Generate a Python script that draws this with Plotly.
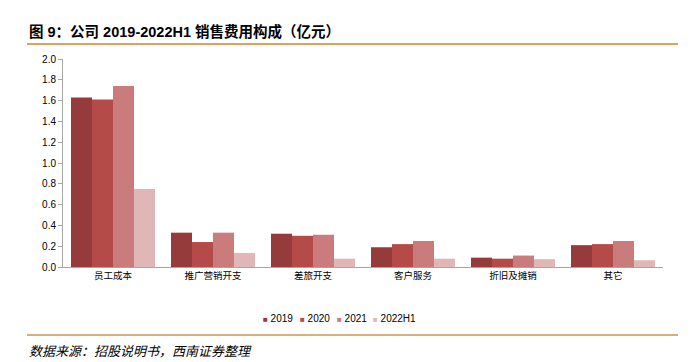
import plotly.graph_objects as go

categories = ["员工成本", "推广营销开支", "差旅开支", "客户服务", "折旧及摊销", "其它"]
series_names = ["2019", "2020", "2021", "2022H1"]
v2019 = [1.63, 0.33, 0.32, 0.19, 0.09, 0.21]
v2020 = [1.61, 0.24, 0.30, 0.22, 0.08, 0.22]
v2021 = [1.74, 0.33, 0.31, 0.25, 0.11, 0.25]
v2022h1 = [0.75, 0.135, 0.08, 0.08, 0.075, 0.065]
y_ticks = [0.0, 0.2, 0.4, 0.6, 0.8, 1.0, 1.2, 1.4, 1.6, 1.8, 2.0]

colors = ["#963b3b", "#b44b49", "#c97c7b", "#e1b6b6"]
values = [v2019, v2020, v2021, v2022h1]

fig = go.Figure()
for name, vals, c in zip(series_names, values, colors):
    fig.add_trace(go.Bar(name=name, x=categories, y=vals, showlegend=False,
                         marker=dict(color=c, line=dict(width=0))))

W, H = 693, 362
L, R, T, B = 63, 30, 59, 95
pw, ph = W - L - R, H - T - B

def px(x):
    return (x - L) / pw

def py(y):
    return (H - B - y) / ph

fig.update_layout(
    width=W, height=H,
    margin=dict(l=L, r=R, t=T, b=B, autoexpand=False),
    paper_bgcolor="white", plot_bgcolor="white",
    barmode="group", bargap=0.16, bargroupgap=0,
    font=dict(family="Liberation Sans, Noto Sans CJK SC", size=10, color="#000000"),
    showlegend=False,
    xaxis=dict(showline=True, linecolor="#a6a6a6", linewidth=1, ticks="",
               tickfont=dict(family="Noto Sans CJK SC", size=9.5), showgrid=False),
    yaxis=dict(range=[0, 2], tickvals=y_ticks, tickformat=".1f", showline=True,
               linecolor="#a6a6a6", linewidth=1, ticks="outside", ticklen=4,
               tickcolor="#a6a6a6", showgrid=False, zeroline=False,
               tickfont=dict(size=10, family="Liberation Sans")),
)

# legend entries built from the series names
legend_x = [261, 298, 335, 371]
for name, c, lx in zip(series_names, colors, legend_x):
    fig.add_annotation(text=f"<span style='color:{c};font-size:8px'>■</span> {name}",
                       xref="paper", yref="paper", x=px(lx), y=py(318), xanchor="left", yanchor="middle",
                       showarrow=False, font=dict(family="Liberation Sans", size=10, color="#000"))

fig.add_annotation(text="<b>图 9：公司 2019-2022H1 销售费用构成（亿元）</b>",
                   xref="paper", yref="paper", x=px(27), y=py(31), xanchor="left", yanchor="middle",
                   showarrow=False, font=dict(family="Liberation Sans, Noto Sans CJK SC", size=14.5, color="#000"))
fig.add_annotation(text="<i>数据来源：招股说明书，西南证券整理</i>",
                   xref="paper", yref="paper", x=px(27), y=py(350), xanchor="left", yanchor="middle",
                   showarrow=False, font=dict(family="Noto Sans CJK SC", size=13, color="#000"))
fig.add_shape(type="line", xref="paper", yref="paper", x0=px(27), x1=px(678), y0=py(44), y1=py(44),
              line=dict(color="#dba361", width=2))
fig.add_shape(type="line", xref="paper", yref="paper", x0=px(27), x1=px(678), y0=py(335), y1=py(335),
              line=dict(color="#d6b07c", width=2))

fig.write_html("out.html", config={"displayModeBar": False},
               post_script="document.body.style.margin='0';")
